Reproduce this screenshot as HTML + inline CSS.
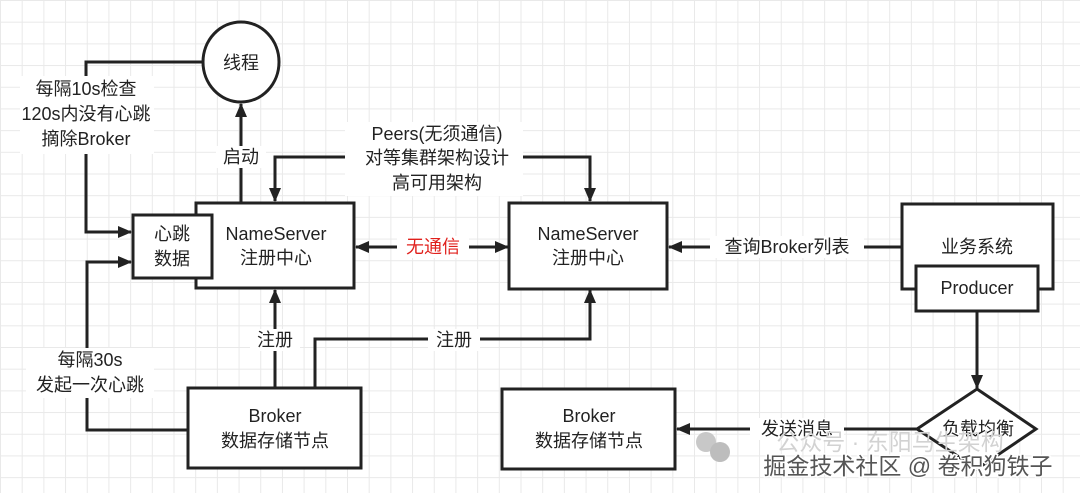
<!DOCTYPE html>
<html><head><meta charset="utf-8"><style>
html,body{margin:0;padding:0;}
body{width:1080px;height:493px;overflow:hidden;background:#fff;
background-image:linear-gradient(#e9e9e9 1px,transparent 1px),linear-gradient(90deg,#e9e9e9 1px,transparent 1px);
background-size:21.7px 21.7px;}
svg{position:absolute;left:0;top:0;}
text{font-family:"Liberation Sans","Noto Sans CJK SC",sans-serif;font-size:18px;fill:#222;text-anchor:middle;}
</style></head><body>
<svg width="1080" height="493" viewBox="0 0 1080 493">
<defs>
<marker id="a2" markerWidth="14" markerHeight="12" refX="13" refY="6" orient="auto-start-reverse" markerUnits="userSpaceOnUse"><path d="M0,0 L14,6 L0,12 Z" fill="#222"/></marker></defs>
<g stroke="#222" stroke-width="3" fill="none">
<ellipse cx="241" cy="62" rx="38" ry="40" fill="#fff"/>
<line x1="241" y1="203" x2="241" y2="104" marker-end="url(#a2)"/>
<polyline points="203,62 86,62 86,232 131,232" marker-end="url(#a2)"/>
<polyline points="275,201 275,157 590,157 590,201" />
<line x1="275" y1="170" x2="275" y2="201" marker-end="url(#a2)"/>
<line x1="590" y1="170" x2="590" y2="201" marker-end="url(#a2)"/>
<line x1="356" y1="247" x2="508" y2="247" marker-start="url(#a2)" marker-end="url(#a2)"/>
<line x1="902" y1="247" x2="669" y2="247" marker-end="url(#a2)"/>
<polyline points="188,430 87,430 87,262 131,262" marker-end="url(#a2)"/>
<line x1="275" y1="388" x2="275" y2="290" marker-end="url(#a2)"/>
<polyline points="315,388 315,339 590,339 590,290" marker-end="url(#a2)"/>
<line x1="977" y1="311" x2="977" y2="388" marker-end="url(#a2)"/>
<line x1="917" y1="429" x2="677" y2="429" marker-end="url(#a2)"/>
<rect x="196" y="203" width="158" height="85" fill="#fff"/>
<rect x="133" y="215" width="79" height="63" fill="#fff"/>
<rect x="509" y="203" width="158" height="86" fill="#fff"/>
<rect x="902" y="204" width="151" height="85" fill="#fff"/>
<rect x="916" y="266" width="122" height="45" fill="#fff"/>
<rect x="188" y="388" width="173" height="80" fill="#fff"/>
<rect x="502" y="389" width="173" height="80" fill="#fff"/>
<polygon points="977,389 1036,429 977,469 917,429" fill="#fff"/>
</g>
<g fill="#fff">
<rect x="20" y="76" width="134" height="78"/>
<rect x="216" y="146" width="50" height="22"/>
<rect x="345" y="122" width="178" height="74"/>
<rect x="397" y="236" width="72" height="22"/>
<rect x="710" y="236" width="154" height="22"/>
<rect x="26" y="348" width="128" height="50"/>
<rect x="250" y="329" width="50" height="22"/>
<rect x="428" y="329" width="52" height="22"/>
<rect x="750" y="418" width="94" height="22"/>
</g>
<text x="241" y="69">线程</text>
<text x="86" y="95">每隔10s检查</text>
<text x="86" y="120">120s内没有心跳</text>
<text x="86" y="145">摘除Broker</text>
<text x="241" y="163">启动</text>
<text x="437" y="140">Peers(无须通信)</text>
<text x="437" y="164">对等集群架构设计</text>
<text x="437" y="189">高可用架构</text>
<text x="172" y="240">心跳</text>
<text x="172" y="265">数据</text>
<text x="276" y="240">NameServer</text>
<text x="276" y="264">注册中心</text>
<text x="433" y="253" style="fill:#e0201c">无通信</text>
<text x="588" y="240">NameServer</text>
<text x="588" y="264">注册中心</text>
<text x="787" y="253">查询Broker列表</text>
<text x="977" y="253">业务系统</text>
<text x="977" y="294">Producer</text>
<text x="90" y="366">每隔30s</text>
<text x="90" y="391">发起一次心跳</text>
<text x="275" y="346">注册</text>
<text x="454" y="346">注册</text>
<text x="275" y="422">Broker</text>
<text x="275" y="447">数据存储节点</text>
<text x="589" y="422">Broker</text>
<text x="589" y="447">数据存储节点</text>
<text x="797" y="435">发送消息</text>
<text x="978" y="435">负载均衡</text>
<text x="890" y="450" style="fill:#d2d2d2;font-size:23px">公众号 · 东阳马生架构</text>
<circle cx="706" cy="442" r="10" fill="#c8c8c8"/><circle cx="720" cy="452" r="10" fill="#bdbdbd"/>
<text x="908" y="474" style="fill:#555;font-size:23px;stroke:#fff;stroke-width:3px;paint-order:stroke">掘金技术社区 @ 卷积狗铁子</text>
</svg>
</body></html>
